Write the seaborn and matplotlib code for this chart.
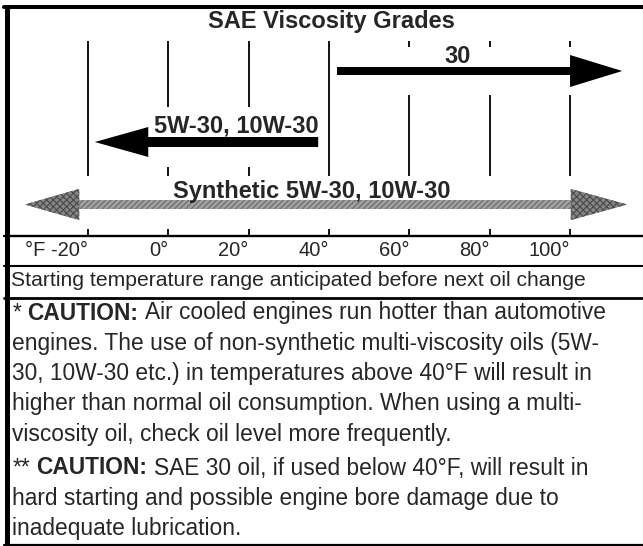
import numpy as np
import matplotlib
matplotlib.use("Agg")
import matplotlib.pyplot as plt
from matplotlib.patches import Polygon, Rectangle
import seaborn as sns

# temperature scale (deg F)
temps = [-20, 0, 20, 40, 60, 80, 100]
temp_labels = ["°F -20°", "0°", "20°", "40°", "60°", "80°", "100°"]

# oil grades, arrows run from tail to tip (deg F)
grade_names = ["30", "5W-30, 10W-30"]
grade_tail = [42, 37.3]
grade_tip = [113, -18.3]
grade_head = [13, 13.3]

synthetic_name = "Synthetic 5W-30, 10W-30"
synthetic_range = [-35.7, 114.2]
synthetic_head = [13.5, 14]

title = "SAE Viscosity Grades"
range_note = "Starting temperature range anticipated before next oil change"

caution_1 = ["*", "CAUTION:", "Air cooled engines run hotter than automotive",
             "engines. The use of non-synthetic multi-viscosity oils (5W-",
             "30, 10W-30 etc.) in temperatures above 40°F will result in",
             "higher than normal oil consumption. When using a multi-",
             "viscosity oil, check oil level more frequently."]
caution_2 = ["**", "CAUTION:", "SAE 30 oil, if used below 40°F, will result in",
             "hard starting and possible engine bore damage due to",
             "inadequate lubrication."]

sns.set_style("white")
plt.rcParams['font.family'] = ['Liberation Sans', 'DejaVu Sans']
plt.rcParams['hatch.linewidth'] = 0.8

W, H = 643, 546
px_deg = 4.017          # pixels per deg F
x_m20 = 88              # pixel position of -20 F

fig = plt.figure(figsize=(W / 100, H / 100), dpi=100)
ax = fig.add_axes([0, 0, 1, 1])
ax.set_xlim(-20 - x_m20 / px_deg, -20 + (W - x_m20) / px_deg)
ax.set_ylim(H, 0)
ax.axis('off')
frame = ax.get_yaxis_transform()


def arrow_pts(tail, tip, y, shaft, head, hl_tail, hl_tip):
    d = np.sign(tip - tail)
    b1 = tip - d * hl_tip
    pts = [(b1, y - shaft / 2), (b1, y - head / 2), (tip, y), (b1, y + head / 2), (b1, y + shaft / 2)]
    if hl_tail:
        b0 = tail + d * hl_tail
        pts = [(b0, y + shaft / 2), (b0, y + head / 2), (tail, y), (b0, y - head / 2), (b0, y - shaft / 2)] + pts
    else:
        pts = [(tail, y + shaft / 2), (tail, y - shaft / 2)] + pts
    return pts


def head_pts(tip, base, y, head):
    return [(base, y - head / 2), (tip, y), (base, y + head / 2)]


# grid lines and ticks
ax.vlines(temps, 41, 176, color='black', lw=1.3, zorder=1)
ax.vlines(temps, 229, 236, color='black', lw=1.3, zorder=1)
for t, lab in zip(temps, temp_labels):
    ax.text(t, 256, lab, ha='right', va='baseline', fontsize=14.5)

ax.text(40.5, 28, title, ha='center', va='baseline', fontsize=17, fontweight='bold')

# SAE 30 arrow
ax.add_patch(Rectangle((grade_tail[0], 47), grade_tip[0] + 1 - grade_tail[0], 48, fc='white', ec='none', zorder=2))
ax.add_patch(Polygon(arrow_pts(grade_tail[0], grade_tip[0], 71, 8, 32, 0, grade_head[0]),
                     closed=True, fc='black', ec='none', zorder=3))
ax.text(72, 63, grade_names[0], ha='center', va='baseline', fontsize=17, fontweight='bold', zorder=4)

# multi-viscosity arrow
ax.add_patch(Rectangle((grade_tip[1], 107), grade_tail[1] - grade_tip[1], 60, fc='white', ec='none', zorder=2))
ax.add_patch(Polygon(arrow_pts(grade_tail[1], grade_tip[1], 142, 10, 30, 0, grade_head[1]),
                     closed=True, fc='black', ec='none', zorder=3))
ax.text(grade_tail[1], 132, grade_names[1], ha='right', va='baseline', fontsize=17, fontweight='bold', zorder=4)

# synthetic double arrow, darker stippled heads
lo, hi = synthetic_range
ax.add_patch(Polygon(arrow_pts(lo, hi, 204.5, 9, 31, synthetic_head[0], synthetic_head[1]),
                     closed=True, fc='#a0a0a0', ec='#6a6a6a', lw=0, hatch='//////', zorder=3))
for tip, base in [(lo, lo + synthetic_head[0]), (hi, hi - synthetic_head[1])]:
    ax.add_patch(Polygon(head_pts(tip, base, 204.5, 31), closed=True,
                         fc='#858585', ec='#4a4a4a', lw=0, hatch='xxxxx', zorder=3))
ax.text(35.8, 198, synthetic_name, ha='center', va='baseline', fontsize=17, fontweight='bold', zorder=4)

# frame and rules
ax.plot([7 / W, 7 / W], [5, H], transform=frame, color='black', lw=3.6, solid_capstyle='butt')
ax.axhline(7, xmin=4 / W, color='black', lw=2.9)
ax.axhline(236, xmin=4 / W, color='black', lw=1.7)
ax.axhline(266, xmin=4 / W, color='black', lw=1.5)
ax.axhline(298, xmin=4 / W, color='black', lw=2.0)
ax.axhline(544.5, xmin=4 / W, color='black', lw=1.6)

ax.text(11 / W, 286, range_note, transform=frame, ha='left', va='baseline', fontsize=15.2)


def caution(lines, y0, fs=16.4, step=30.3):
    t1 = ax.text(13 / W, y0, lines[0], transform=frame, ha='left', va='baseline', fontsize=fs)
    t2 = ax.annotate(lines[1], xy=(1, 0), xycoords=t1, xytext=(0.25 * fs, 0), textcoords='offset points',
                     ha='left', va='bottom', fontsize=fs, fontweight='bold')
    ax.annotate(lines[2], xy=(1, 0), xycoords=t2, xytext=(0.278 * fs, 0), textcoords='offset points',
                ha='left', va='bottom', fontsize=fs)
    for i, line in enumerate(lines[3:]):
        ax.text(12 / W, y0 + step * (i + 1), line, transform=frame, ha='left', va='baseline', fontsize=fs)


caution(caution_1, 319.5)
caution(caution_2, 474.5)

fig.savefig('out.png', dpi=100)
